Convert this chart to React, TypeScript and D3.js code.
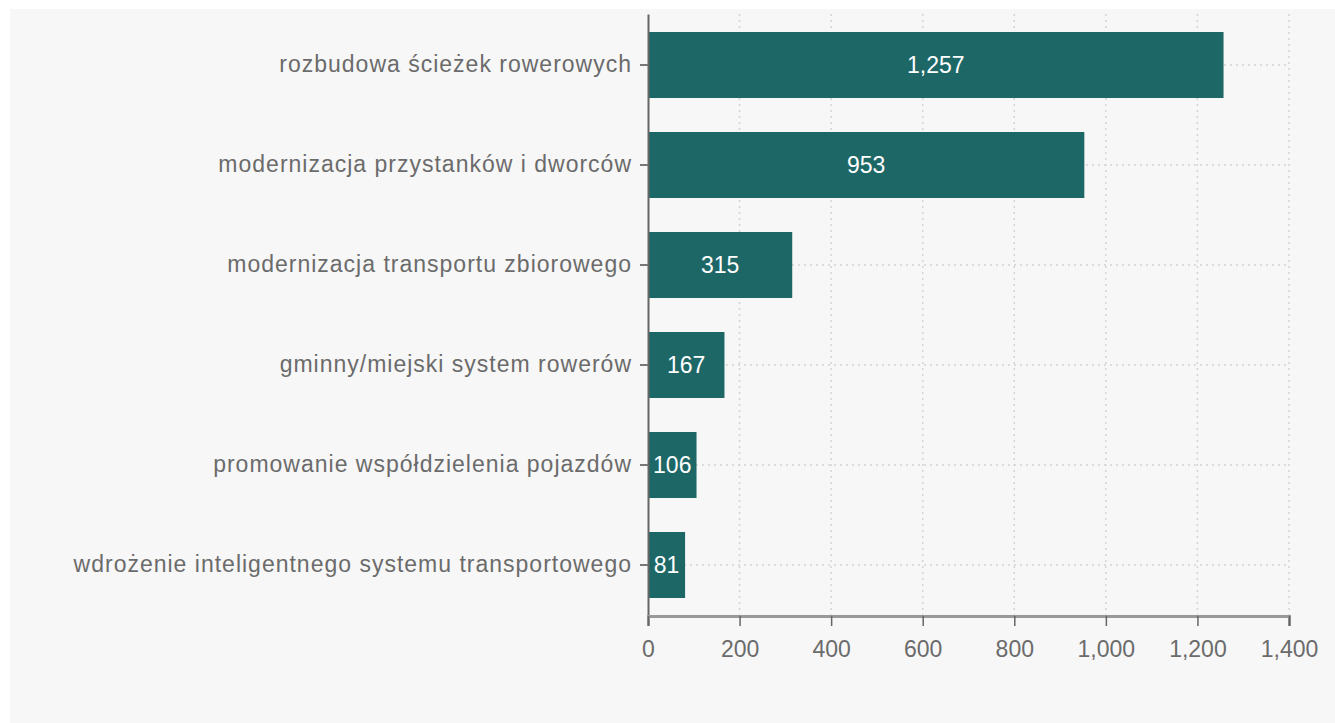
import { useEffect, useRef } from "react";
import { axisBottom, axisLeft, format, scaleBand, scaleLinear, select } from "d3";

const categories = [
  "rozbudowa ścieżek rowerowych",
  "modernizacja przystanków i dworców",
  "modernizacja transportu zbiorowego",
  "gminny/miejski system rowerów",
  "promowanie współdzielenia pojazdów",
  "wdrożenie inteligentnego systemu transportowego",
];
const values = [1257, 953, 315, 167, 106, 81];
const xTicks = [0, 200, 400, 600, 800, 1000, 1200, 1400];

const W = 1335;
const H = 723;
const margin = { top: 14, right: 46, bottom: 107, left: 648 };
const barColor = "#1e6767";
const textColor = "#6b6b6b";
const font = "'Liberation Sans', Arial, sans-serif";

export default function App() {
  const xRef = useRef<SVGGElement>(null);
  const yRef = useRef<SVGGElement>(null);

  const innerW = W - margin.left - margin.right;
  const innerH = H - margin.top - margin.bottom;

  const x = scaleLinear().domain([0, 1400]).range([0, innerW]);
  const y = scaleBand()
    .domain(categories)
    .range([0, innerH])
    .paddingInner(0.34)
    .paddingOuter(0.18);

  useEffect(() => {
    if (xRef.current) {
      const g = select(xRef.current);
      g.call(axisBottom(x).tickValues(xTicks).tickFormat(format(",")).tickSize(10).tickPadding(15));
      g.select(".domain").attr("stroke", "#999").attr("stroke-width", 3);
      g.selectAll(".tick line").attr("stroke", "#666").attr("stroke-width", 1.5);
      g.selectAll(".tick text")
        .attr("fill", textColor)
        .style("font-size", "23px")
        .style("font-family", font);
    }
    if (yRef.current) {
      const g = select(yRef.current);
      g.call(axisLeft(y).tickSize(8).tickPadding(8).tickSizeOuter(0));
      g.select(".domain").attr("stroke", "#666").attr("stroke-width", 2);
      g.selectAll(".tick line").attr("stroke", "#777").attr("stroke-width", 2);
      g.selectAll(".tick text")
        .attr("fill", textColor)
        .style("font-size", "23px")
        .style("letter-spacing", "1px")
        .style("font-family", font);
    }
  }, []);

  return (
    <svg width={W} height={H} style={{ position: "absolute", left: 0, top: 0 }}>
      <rect x={0} y={0} width={W} height={H} fill="#fff" />
      <rect x={10} y={9} width={W - 10} height={H - 9} fill="#f7f7f7" />
      <g transform={`translate(${margin.left}, ${margin.top})`}>
        {xTicks.slice(1).map((t) => (
          <line
            key={t}
            x1={x(t)}
            x2={x(t)}
            y1={0}
            y2={innerH}
            stroke="#d4d4d4"
            strokeWidth={1.5}
            strokeDasharray="2,4"
          />
        ))}
        {categories.map((c) => (
          <line
            key={c}
            x1={0}
            x2={innerW}
            y1={(y(c) as number) + y.bandwidth() / 2}
            y2={(y(c) as number) + y.bandwidth() / 2}
            stroke="#d4d4d4"
            strokeWidth={1.5}
            strokeDasharray="2,4"
          />
        ))}
        {categories.map((c, i) => (
          <g key={c}>
            <rect
              x={0}
              y={y(c)}
              width={x(values[i])}
              height={y.bandwidth()}
              fill={barColor}
            />
            <text
              x={x(values[i]) / 2}
              y={(y(c) as number) + y.bandwidth() / 2}
              dy="0.35em"
              textAnchor="middle"
              fill="#fff"
              style={{ fontSize: 23, fontFamily: font }}
            >
              {format(",")(values[i])}
            </text>
          </g>
        ))}
        <g ref={yRef} />
        <g ref={xRef} transform={`translate(0, ${innerH})`} />
      </g>
    </svg>
  );
}
